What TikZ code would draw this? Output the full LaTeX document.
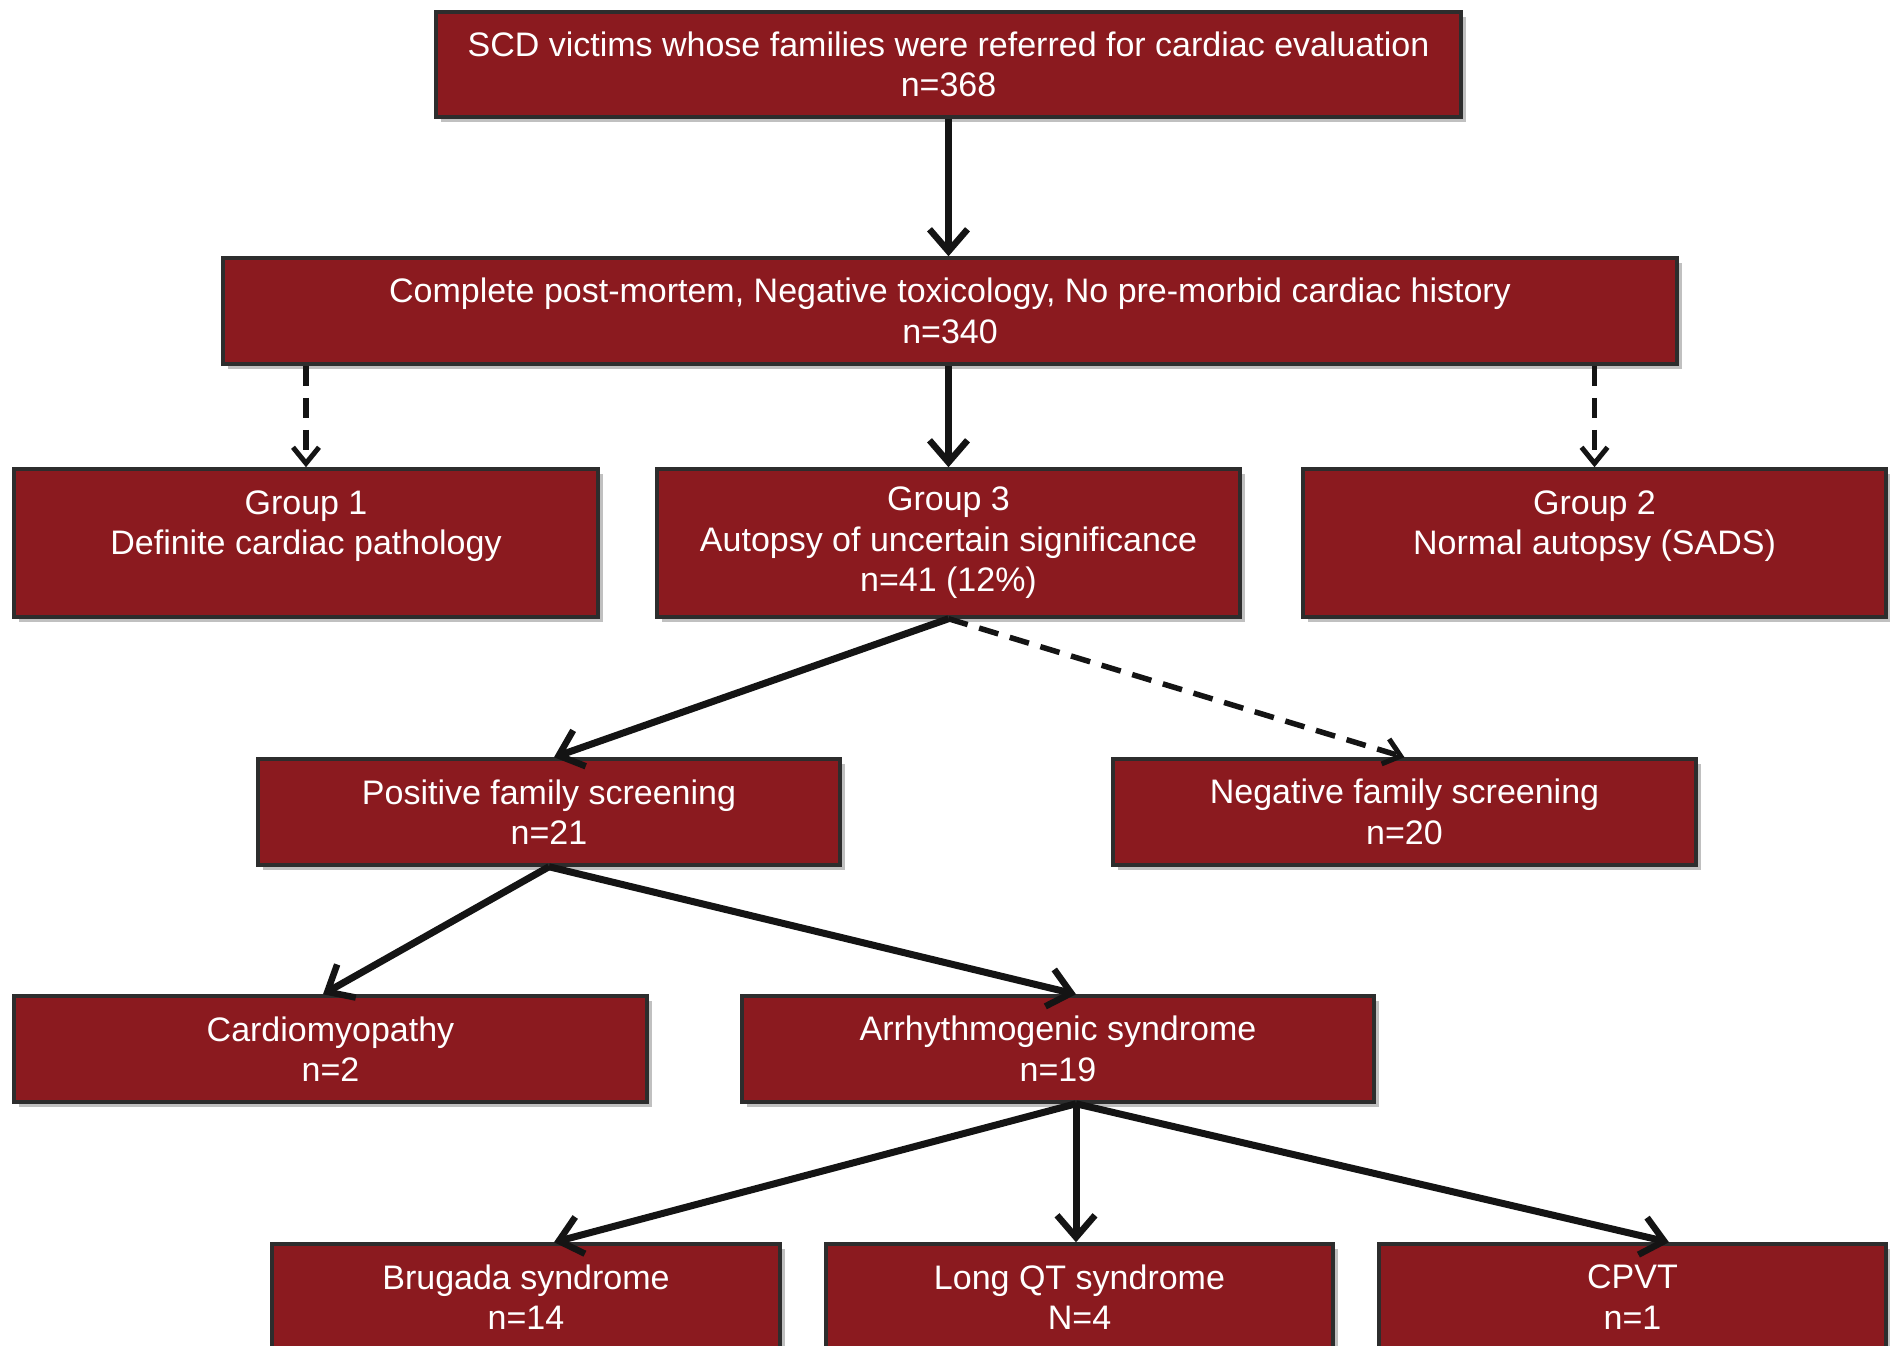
\documentclass[tikz,border=0pt]{standalone}
\usepackage{fontspec}
\setmainfont{Liberation Sans}
\usetikzlibrary{arrows.meta,shadows}
\definecolor{boxred}{RGB}{139,26,31}
\definecolor{boxline}{RGB}{45,45,45}
\begin{document}
\begin{tikzpicture}[x=1pt,y=-1pt,
  box/.style={draw=boxline, line width=3.5pt, fill=boxred, text=white,
    align=center, inner sep=0pt, minimum height=106pt,
    font=\fontsize{34}{40.5}\selectfont,
    drop shadow={shadow xshift=5pt, shadow yshift=-5pt, opacity=0.35, fill=black!70}},
  conn/.style={line width=7pt, draw=black!92,
    -{Straight Barb[length=22pt,width=38pt,line width=6.5pt]}},
  dconn/.style={line width=5.5pt, draw=black!92, dash pattern=on 20pt off 12pt,
    -{Straight Barb[length=16pt,width=26pt,line width=5pt]}}
]
\clip (0,0) rectangle (1890,1346);
\fill[white] (0,0) rectangle (1890,1346);

\node[box, minimum width=1025pt, minimum height=105pt] (top) at (948.5,64.5)
  {SCD victims whose families were referred for cardiac evaluation\\ n=368};
\node[box, minimum width=1454pt] (b2) at (950,311)
  {Complete post-mortem, Negative toxicology, No pre-morbid cardiac history\\ n=340};
\node[box, minimum width=584pt, minimum height=148pt] (g1) at (306,543)
  {Group 1\\ Definite cardiac pathology\\ \phantom{n}};
\node[box, minimum width=583pt, minimum height=148pt] (g3) at (948.5,543)
  {Group 3\\ Autopsy of uncertain significance\\ n=41 (12\%)};
\node[box, minimum width=583pt, minimum height=148pt] (g2) at (1594.5,543)
  {Group 2\\ Normal autopsy (SADS)\\ \phantom{n}};
\node[box, minimum width=582pt] (pos) at (549,812)
  {Positive family screening\\ n=21};
\node[box, minimum width=583pt] (neg) at (1404.5,812)
  {Negative family screening\\ n=20};
\node[box, minimum width=633pt] (cm) at (330.5,1049)
  {Cardiomyopathy\\ n=2};
\node[box, minimum width=632pt] (ar) at (1058,1049)
  {Arrhythmogenic syndrome\\ n=19};
\node[box, minimum width=508pt] (br) at (526,1297)
  {Brugada syndrome\\ n=14};
\node[box, minimum width=507pt] (lq) at (1079.5,1297)
  {Long QT syndrome\\ N=4};
\node[box, minimum width=507pt] (cp) at (1632.5,1297)
  {CPVT\\ n=1};

\draw[conn] (top.south) -- (top.south |- b2.north);
\draw[dconn] (g1.north |- b2.south) -- (g1.north);
\draw[conn] (g3.north |- b2.south) -- (g3.north);
\draw[dconn] (g2.north |- b2.south) -- (g2.north);
\draw[conn] (g3.south) -- ([xshift=5pt]pos.north);
\draw[dconn] (g3.south) -- (neg.north);
\draw[conn] (pos.south) -- ([xshift=-7.5pt]cm.north);
\draw[conn] (pos.south) -- ([xshift=18pt]ar.north);
\draw[conn] ([xshift=18pt]ar.south) -- ([xshift=28pt]br.north);
\draw[conn] ([xshift=18pt]ar.south) -- ([xshift=-3.5pt]lq.north);
\draw[conn] ([xshift=18pt]ar.south) -- ([xshift=36.5pt]cp.north);
\end{tikzpicture}
\end{document}
